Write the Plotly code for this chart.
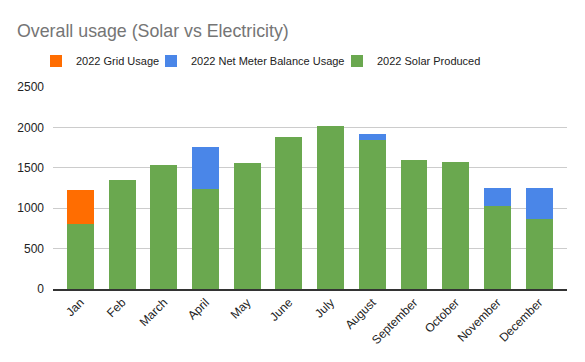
import plotly.graph_objects as go

months = ["Jan", "Feb", "March", "April", "May", "June", "July", "August",
          "September", "October", "November", "December"]
solar = [806, 1350, 1535, 1238, 1560, 1880, 2016, 1843, 1596, 1572, 1028, 868]
net_meter = [0, 0, 0, 519, 0, 0, 0, 74, 0, 0, 222, 382]
grid = [420, 0, 0, 0, 0, 0, 0, 0, 0, 0, 0, 0]
y_ticks = [0, 500, 1000, 1500, 2000, 2500]

fig = go.Figure()
fig.add_trace(go.Bar(x=months, y=solar, name="2022 Solar Produced", marker_color="#6aa84f", legend="legend3"))
fig.add_trace(go.Bar(x=months, y=net_meter, name="2022 Net Meter Balance Usage", marker_color="#4a86e8", legend="legend2"))
fig.add_trace(go.Bar(x=months, y=grid, name="2022 Grid Usage", marker_color="#ff6d01", legend="legend"))

fig.update_traces(marker_line_width=0, hoverinfo="x+y+name")

def leg(x):
    return dict(orientation="h", xref="container", yref="container",
                x=x / 585, xanchor="left", y=1 - 61 / 362, yanchor="middle",
                font=dict(size=11, color="#222222"), itemwidth=30, bgcolor="rgba(0,0,0,0)")

fig.update_layout(
    barmode="stack",
    bargap=0.353,
    width=585, height=362,
    margin=dict(l=53, r=18, t=87, b=73, autoexpand=False),
    paper_bgcolor="white", plot_bgcolor="white",
    font=dict(family="Liberation Sans, Arial, sans-serif", color="#222222", size=12),
    title=dict(text="Overall usage (Solar vs Electricity)", x=17 / 585, xanchor="left",
               y=1 - 31 / 362, yanchor="middle", xref="container", yref="container",
               pad=dict(l=0, r=0, t=0, b=0),
               font=dict(size=17.8, color="#757575")),
    legend=leg(36),
    legend2=leg(151),
    legend3=leg(337),
    showlegend=True,
)
fig.update_xaxes(tickangle=-45, tickfont=dict(size=12, color="#222222"), showline=True,
                 linecolor="#333333", linewidth=1.5, ticks="", showgrid=False, automargin=False,
                 range=[-0.66, 11.67])
fig.update_yaxes(range=[0, 2500], tickvals=y_ticks, showgrid=True, gridcolor="#cccccc",
                 tickfont=dict(size=12, color="#222222"), zeroline=False, ticks="",
                 showline=False, ticklabelstandoff=8, automargin=False)

fig.write_html("out.html", config={"displayModeBar": False},
               post_script="document.body.style.margin='0';document.body.style.padding='0';")
